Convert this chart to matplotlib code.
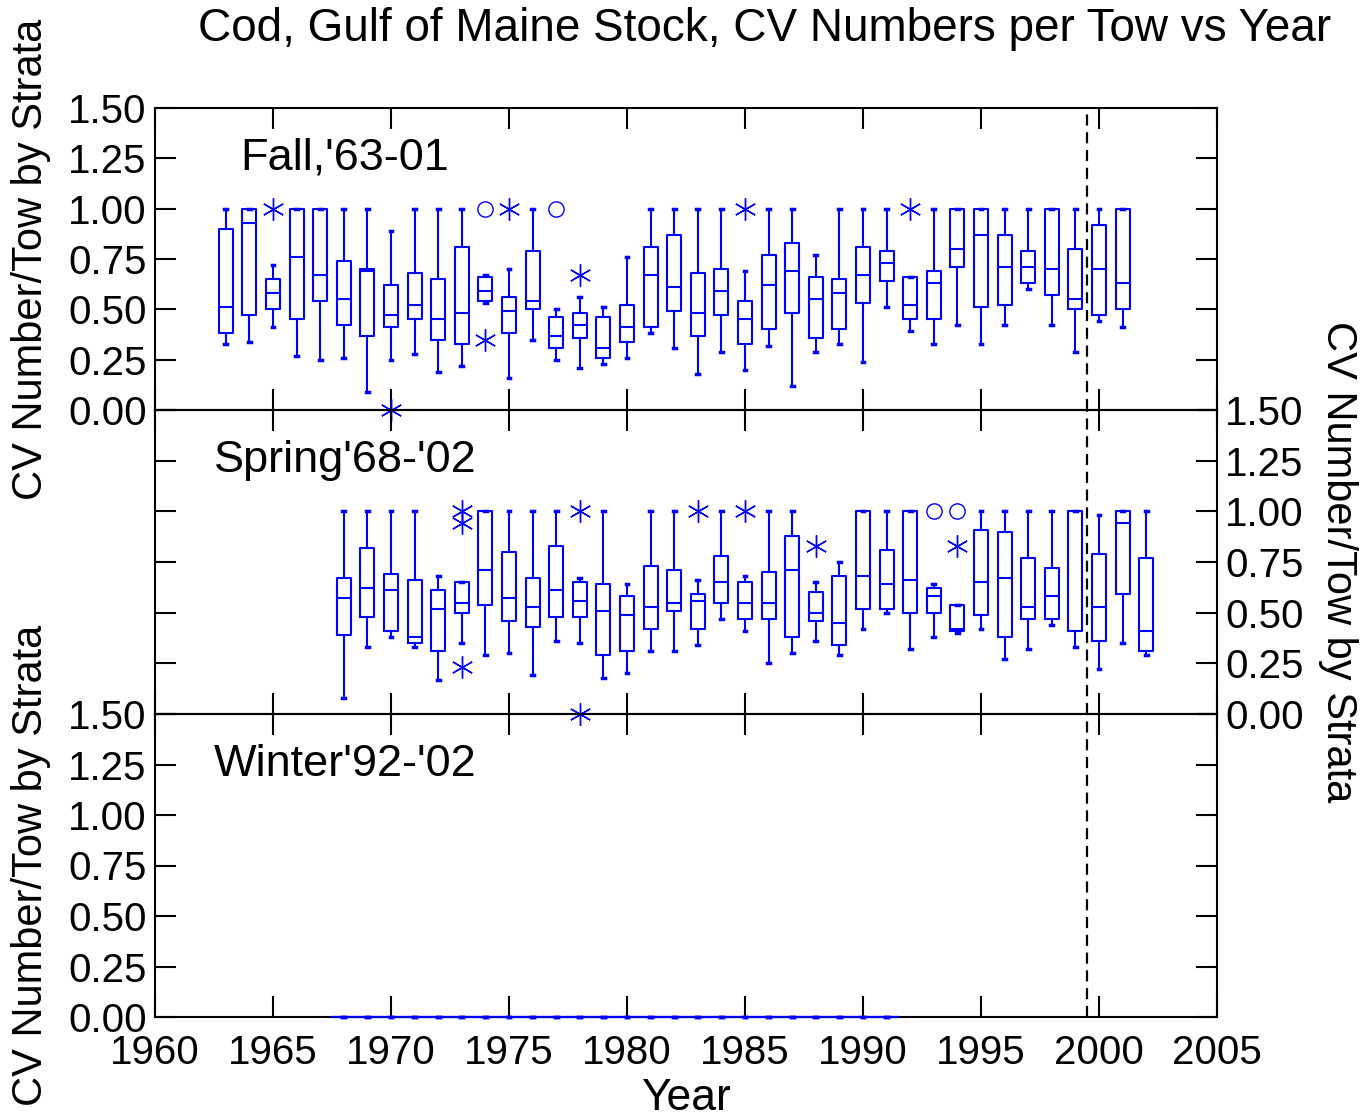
import matplotlib
matplotlib.use('Agg')
import matplotlib.pyplot as plt
import numpy as np

plt.rcParams['font.family'] = ['Liberation Sans', 'DejaVu Sans']

# ---- Fall survey ('63-01): box statistics ----
fall_years = list(range(1963, 2002))
fall_lo = [0.33, 0.34, 0.41, 0.27, 0.25, 0.26, 0.09, 0.25, 0.28, 0.19, 0.22, 0.53, 0.16,
           0.35, 0.25, 0.21, 0.23, 0.26, 0.38, 0.31, 0.18,
           0.29, 0.20, 0.32, 0.12, 0.29, 0.33, 0.24, 0.51, 0.39, 0.33, 0.42, 0.33, 0.42,
           0.60, 0.42, 0.29, 0.44, 0.41]
fall_q1 = [0.38, 0.47, 0.50, 0.45, 0.54, 0.42, 0.37, 0.41, 0.45, 0.35, 0.33, 0.54, 0.38,
           0.50, 0.31, 0.36, 0.26, 0.34, 0.41, 0.49, 0.37,
           0.47, 0.33, 0.40, 0.48, 0.36, 0.40, 0.53, 0.64, 0.45, 0.45, 0.71, 0.51, 0.52,
           0.63, 0.57, 0.50, 0.47, 0.50]
fall_med = [0.51, 0.93, 0.58, 0.76, 0.67, 0.55, 0.69, 0.47, 0.52, 0.45, 0.48, 0.59, 0.49,
            0.54, 0.37, 0.42, 0.31, 0.41, 0.67, 0.61, 0.48,
            0.59, 0.45, 0.62, 0.69, 0.55, 0.58, 0.67, 0.73, 0.52, 0.63, 0.80, 0.87, 0.71,
            0.71, 0.70, 0.55, 0.70, 0.63]
fall_q3 = [0.90, 1.00, 0.65, 1.00, 1.00, 0.74, 0.70, 0.62, 0.68, 0.65, 0.81, 0.66, 0.56,
           0.79, 0.46, 0.48, 0.46, 0.52, 0.81, 0.87, 0.68,
           0.70, 0.54, 0.77, 0.83, 0.66, 0.65, 0.81, 0.79, 0.66, 0.69, 1.00, 1.00, 0.87,
           0.79, 1.00, 0.80, 0.92, 1.00]
fall_hi = [1.00, 1.00, 0.72, 1.00, 1.00, 1.00, 1.00, 0.89, 1.00, 1.00, 1.00, 0.67, 0.70,
           1.00, 0.50, 0.56, 0.51, 0.76, 1.00, 1.00, 1.00,
           1.00, 0.69, 1.00, 1.00, 0.77, 1.00, 1.00, 1.00, 0.66, 1.00, 1.00, 1.00, 1.00,
           1.00, 1.00, 1.00, 1.00, 1.00]
fall_star_x = [1965, 1970, 1974, 1975, 1978, 1985, 1992]
fall_star_y = [1.00, 0.00, 0.35, 1.00, 0.67, 1.00, 1.00]
fall_circ_x = [1974, 1977]
fall_circ_y = [1.00, 1.00]

# ---- Spring survey ('68-'02) ----
spring_years = list(range(1968, 2003))
spring_lo = [0.08, 0.33, 0.38, 0.33, 0.17, 0.35, 0.29, 0.30, 0.19, 0.36, 0.35, 0.18, 0.20,
             0.31, 0.31, 0.34, 0.47,
             0.41, 0.25, 0.30, 0.36, 0.29, 0.42, 0.50, 0.32, 0.38, 0.40, 0.42, 0.27, 0.32,
             0.44, 0.33, 0.22, 0.35, 0.29]
spring_q1 = [0.39, 0.48, 0.41, 0.35, 0.31, 0.50, 0.54, 0.46, 0.43, 0.48, 0.48, 0.29, 0.31,
             0.42, 0.51, 0.42, 0.55,
             0.47, 0.47, 0.38, 0.46, 0.34, 0.52, 0.52, 0.50, 0.50, 0.41, 0.49, 0.38, 0.47,
             0.47, 0.41, 0.36, 0.59, 0.31]
spring_med = [0.57, 0.62, 0.61, 0.38, 0.52, 0.55, 0.71, 0.57, 0.53, 0.61, 0.56, 0.51, 0.49,
              0.53, 0.55, 0.56, 0.65,
              0.55, 0.55, 0.71, 0.50, 0.45, 0.68, 0.64, 0.66, 0.58, 0.42, 0.65, 0.67, 0.53,
              0.58, 1.00, 0.53, 0.94, 0.41]
spring_q3 = [0.67, 0.82, 0.69, 0.66, 0.61, 0.65, 1.00, 0.80, 0.67, 0.83, 0.65, 0.64, 0.58,
             0.73, 0.71, 0.59, 0.78,
             0.65, 0.70, 0.88, 0.60, 0.68, 1.00, 0.81, 1.00, 0.62, 0.54, 0.91, 0.90, 0.77,
             0.72, 1.00, 0.79, 1.00, 0.77]
spring_hi = [1.00, 1.00, 1.00, 1.00, 0.68, 0.65, 1.00, 1.00, 1.00, 1.00, 0.67, 1.00, 0.64,
             1.00, 1.00, 0.66, 1.00,
             0.68, 1.00, 1.00, 0.65, 0.75, 1.00, 1.00, 1.00, 0.64, 0.54, 1.00, 1.00, 1.00,
             1.00, 1.00, 0.98, 1.00, 1.00]
spring_star_x = [1973, 1973, 1973, 1978, 1978, 1983, 1985, 1988, 1994]
spring_star_y = [1.00, 0.94, 0.23, 1.00, 0.00, 1.00, 1.00, 0.83, 0.83]
spring_circ_x = [1993, 1994]
spring_circ_y = [1.00, 1.00]

# ---- Winter survey ('92-'02): only zero-valued boxes drawn ----
winter_years = list(range(1968, 1992))
winter_cv = [0.0] * len(winter_years)

yticks = [0.0, 0.25, 0.5, 0.75, 1.0, 1.25, 1.5]
xticks = [1960, 1965, 1970, 1975, 1980, 1985, 1990, 1995, 2000, 2005]
cutoff_year = 1999.5

BLUE = '#0000ff'


def box_stats(lo, q1, med, q3, hi):
    return [dict(whislo=a, q1=b, med=c, q3=d, whishi=e, fliers=[])
            for a, b, c, d, e in zip(lo, q1, med, q3, hi)]


def draw_boxes(ax, years, stats, width):
    arts = ax.bxp(stats, positions=years, widths=width, capwidths=0.12, showfliers=False,
                  manage_ticks=False,
                  boxprops=dict(color=BLUE, lw=1.5),
                  whiskerprops=dict(color=BLUE, lw=1.5),
                  capprops=dict(color=BLUE, lw=2.5),
                  medianprops=dict(color=BLUE, lw=1.5))
    for group in arts.values():
        for a in group:
            a.set_zorder(3)
            a.set_clip_on(False)


def draw_outliers(ax, sx, sy, cx, cy):
    ax.plot(sx, sy, ls='none', marker=(6, 2, 0), ms=16, mec=BLUE, mew=1.0,
            zorder=3, clip_on=False)
    ax.plot(cx, cy, ls='none', marker='o', ms=11, mfc='none', mec=BLUE, mew=1.0,
            zorder=3, clip_on=False)


fig = plt.figure(figsize=(13.63, 11.19), dpi=100)
W, H = 1363.0, 1119.0
left, right = 155 / W, 1217 / W
panel_px = [(108, 410), (410, 714), (714, 1017)]
axes = []
for top, bot in panel_px:
    ax = fig.add_axes([left, 1 - bot / H, right - left, (bot - top) / H])
    ax.patch.set_visible(False)
    axes.append(ax)

ax1, ax2, ax3 = axes

draw_boxes(ax1, fall_years, box_stats(fall_lo, fall_q1, fall_med, fall_q3, fall_hi), 0.6)
draw_outliers(ax1, fall_star_x, fall_star_y, fall_circ_x, fall_circ_y)

draw_boxes(ax2, spring_years,
           box_stats(spring_lo, spring_q1, spring_med, spring_q3, spring_hi), 0.6)
draw_outliers(ax2, spring_star_x, spring_star_y, spring_circ_x, spring_circ_y)

draw_boxes(ax3, winter_years,
           box_stats(winter_cv, winter_cv, winter_cv, winter_cv, winter_cv), 1.0)

labels = ["Fall,'63-01", "Spring'68-'02", "Winter'92-'02"]
label_x = [1963.6, 1962.5, 1962.5]
for ax, lab, lx in zip(axes, labels, label_x):
    ax.set_xlim(1960, 2005)
    ax.set_ylim(0, 1.5)
    ax.set_xticks(xticks)
    ax.set_yticks(yticks)
    ax.set_yticklabels([f'{v:.2f}' for v in yticks])
    ax.set_xticklabels([str(v) for v in xticks])
    ax.tick_params(direction='in', length=15, width=1.5, top=True, right=True,
                   labelsize=29, pad=6)
    ax.tick_params(axis='x', pad=12)
    for sp in ax.spines.values():
        sp.set_linewidth(1.5)
    ax.axvline(cutoff_year, color='black', lw=1.6, dashes=(5, 3))
    ax.text(lx, 1.25, lab, fontsize=32.5, ha='left', va='center')

ax1.tick_params(labelbottom=False)
ax2.tick_params(labelbottom=False, labelleft=False, labelright=True)
ax3.tick_params(labelleft=True)

fig.text(765 / W, 1 - 29 / H, 'Cod, Gulf of Maine Stock, CV Numbers per Tow vs Year',
         fontsize=33, ha='center', va='center')
fig.text(31 / W, 1 - 259 / H, 'CV Number/Tow by Strata', fontsize=30, rotation=90,
         ha='center', va='center')
fig.text(31 / W, 1 - 865 / H, 'CV Number/Tow by Strata', fontsize=30, rotation=90,
         ha='center', va='center')
fig.text(1338 / W, 1 - 562 / H, 'CV Number/Tow by Strata', fontsize=30, rotation=-90,
         ha='center', va='center')
fig.text(686 / W, 1 - 1110 / H, 'Year', fontsize=32, ha='center', va='baseline')

fig.savefig('out.png', dpi=100)
